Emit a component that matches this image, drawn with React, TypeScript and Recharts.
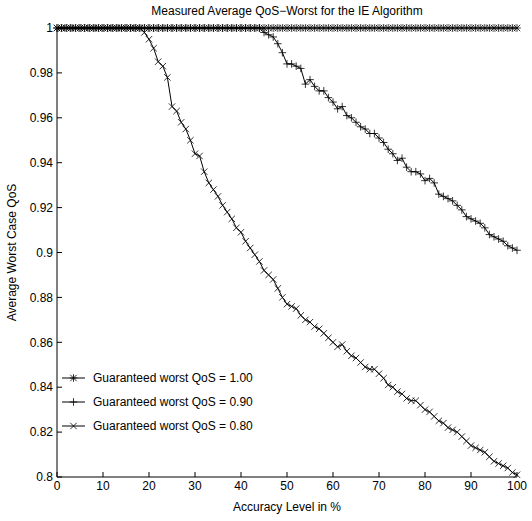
import React from "react"
import { LineChart, Line, XAxis, YAxis } from "recharts"

const accuracy = Array.from({ length: 101 }, (_, i) => i)

const worst100 = accuracy.map(() => 1.0)

// guaranteed worst QoS = 0.90
const worst90 = [
  1, 1, 1, 1, 1, 1, 1, 1, 1, 1,
  1, 1, 1, 1, 1, 1, 1, 1, 1, 1,
  1, 1, 1, 1, 1, 1, 1, 1, 1, 1,
  1, 1, 1, 1, 1, 1, 1, 1, 1, 1,
  1, 1, 1, 1, 1, 0.998, 0.997, 0.996, 0.993, 0.989,
  0.984, 0.984, 0.983, 0.982, 0.975, 0.977, 0.974, 0.972, 0.972, 0.969,
  0.967, 0.964, 0.965, 0.961, 0.96, 0.958, 0.956, 0.955, 0.953, 0.953,
  0.951, 0.949, 0.946, 0.944, 0.941, 0.942, 0.938, 0.936, 0.936, 0.935,
  0.932, 0.933, 0.931, 0.926, 0.925, 0.924, 0.923, 0.921, 0.919, 0.916,
  0.915, 0.914, 0.913, 0.911, 0.908, 0.907, 0.906, 0.905, 0.903, 0.902,
  0.901,
]

// guaranteed worst QoS = 0.80
const worst80 = [
  1, 1, 1, 1, 1, 1, 1, 1, 1, 1,
  1, 1, 1, 1, 1, 1, 1, 1, 1, 0.998,
  0.995, 0.991, 0.985, 0.983, 0.978, 0.965, 0.963, 0.958, 0.955, 0.95,
  0.944, 0.943, 0.936, 0.931, 0.928, 0.925, 0.921, 0.918, 0.915, 0.911,
  0.909, 0.905, 0.902, 0.899, 0.896, 0.892, 0.89, 0.888, 0.884, 0.88,
  0.877, 0.876, 0.875, 0.872, 0.87, 0.869, 0.867, 0.866, 0.864, 0.862,
  0.86, 0.858, 0.859, 0.856, 0.854, 0.853, 0.851, 0.849, 0.848, 0.848,
  0.846, 0.844, 0.841, 0.84, 0.838, 0.837, 0.835, 0.834, 0.834, 0.832,
  0.83, 0.829, 0.827, 0.825, 0.824, 0.822, 0.821, 0.82, 0.818, 0.816,
  0.814, 0.813, 0.812, 0.811, 0.809, 0.807, 0.806, 0.805, 0.804, 0.802,
  0.801,
]

const xTicks = [0, 10, 20, 30, 40, 50, 60, 70, 80, 90, 100]
const yTicks = [0.8, 0.82, 0.84, 0.86, 0.88, 0.9, 0.92, 0.94, 0.96, 0.98, 1]

const legendLabels = [
  "Guaranteed worst QoS = 1.00",
  "Guaranteed worst QoS = 0.90",
  "Guaranteed worst QoS = 0.80",
]

const data = accuracy.map((x, i) => ({
  x,
  q100: worst100[i],
  q90: worst90[i],
  q80: worst80[i],
}))

const FONT = "'Liberation Sans', Arial, Helvetica, sans-serif"
const INK = "#000"
const TICK_IN = 5
const M = 4

type Kind = "star" | "plus" | "cross"

function Marker({ cx, cy, kind }: { cx: number; cy: number; kind: Kind }) {
  const p = 3.8
  const c = 3.2
  const plus = `M${cx - p},${cy}L${cx + p},${cy}M${cx},${cy - p}L${cx},${cy + p}`
  const cross = `M${cx - c},${cy - c}L${cx + c},${cy + c}M${cx - c},${cy + c}L${cx + c},${cy - c}`
  const d = kind === "plus" ? plus : kind === "cross" ? cross : plus + cross
  return <path d={d} stroke={INK} strokeWidth={0.8} fill="none" />
}

const dotFor = (kind: Kind) => (p: any) => (
  <Marker key={`${kind}-${p.index}`} cx={p.cx} cy={p.cy} kind={kind} />
)

const fmt = (v: number) => String(Number(v.toFixed(2)))

function BottomTick(props: any) {
  const { x, y, payload } = props
  const ay = y - M
  return (
    <g>
      <line x1={x} x2={x} y1={ay} y2={ay - TICK_IN} stroke={INK} />
      <text x={x} y={y} dy="0.71em" textAnchor="middle" fill={INK} fontSize={12} fontFamily={FONT}>
        {payload.value}
      </text>
    </g>
  )
}

function TopTick(props: any) {
  const { x, y } = props
  const ay = y + M
  return <line x1={x} x2={x} y1={ay} y2={ay + TICK_IN} stroke={INK} />
}

function LeftTick(props: any) {
  const { x, y, payload } = props
  const ax = x + M
  return (
    <g>
      <line x1={ax} x2={ax + TICK_IN} y1={y} y2={y} stroke={INK} />
      <text x={x} y={y} dy="0.355em" textAnchor="end" fill={INK} fontSize={12} fontFamily={FONT}>
        {fmt(payload.value)}
      </text>
    </g>
  )
}

function RightTick(props: any) {
  const { x, y } = props
  const ax = x - M
  return <line x1={ax} x2={ax - TICK_IN} y1={y} y2={y} stroke={INK} />
}

const kinds: Kind[] = ["star", "plus", "cross"]

function LegendBox() {
  return (
    <div
      style={{
        position: "absolute",
        left: 60,
        top: 366,
        fontFamily: FONT,
        fontSize: 12,
        color: INK,
      }}
    >
      {legendLabels.map((label, i) => (
        <div key={label} style={{ display: "flex", alignItems: "center", height: 24 }}>
          <svg width={33} height={12} style={{ display: "block" }}>
            <line x1={2} x2={25} y1={6} y2={6} stroke={INK} strokeWidth={1} />
            <Marker cx={13.5} cy={6} kind={kinds[i]} />
          </svg>
          <span>{label}</span>
        </div>
      ))}
    </div>
  )
}

export default function App() {
  return (
    <div style={{ position: "absolute", left: 0, top: 0, width: 532, height: 521, background: "#fff" }}>
      <div
        style={{
          position: "absolute",
          left: 57,
          width: 460,
          top: 4,
          textAlign: "center",
          fontFamily: FONT,
          fontSize: 12,
          color: INK,
        }}
      >
        Measured Average QoS−Worst for the IE Algorithm
      </div>
      <LineChart width={532} height={521} data={data} margin={{ top: 28, right: 15, bottom: 0, left: 0 }}>
        <XAxis
          dataKey="x"
          type="number"
          domain={[0, 100]}
          ticks={xTicks}
          interval={0}
          tickLine={false}
          tickSize={0}
          tickMargin={M}
          tick={<BottomTick />}
          stroke={INK}
          height={44}
          label={{
            value: "Accuracy Level in %",
            position: "insideBottom",
            offset: 10,
            fill: INK,
            fontSize: 12,
            fontFamily: FONT,
          }}
        />
        <XAxis
          xAxisId="top"
          dataKey="x"
          type="number"
          orientation="top"
          domain={[0, 100]}
          ticks={xTicks}
          interval={0}
          tickLine={false}
          tickSize={0}
          tickMargin={M}
          tick={<TopTick />}
          stroke={INK}
          height={0}
        />
        <YAxis
          type="number"
          domain={[0.8, 1]}
          ticks={yTicks}
          interval={0}
          tickLine={false}
          tickSize={0}
          tickMargin={M}
          tick={<LeftTick />}
          stroke={INK}
          width={57}
          label={{
            value: "Average Worst Case QoS",
            angle: -90,
            position: "insideLeft",
            offset: 12,
            style: { textAnchor: "middle" },
            fill: INK,
            fontSize: 12,
            fontFamily: FONT,
          }}
        />
        <YAxis
          yAxisId="right"
          orientation="right"
          type="number"
          domain={[0.8, 1]}
          ticks={yTicks}
          interval={0}
          tickLine={false}
          tickSize={0}
          tickMargin={M}
          tick={<RightTick />}
          stroke={INK}
          width={0}
        />
        <Line
          dataKey="q80"
          stroke={INK}
          strokeWidth={1}
          dot={dotFor("cross")}
          activeDot={false}
          isAnimationActive={false}
        />
        <Line
          dataKey="q90"
          stroke={INK}
          strokeWidth={1}
          dot={dotFor("plus")}
          activeDot={false}
          isAnimationActive={false}
        />
        <Line
          dataKey="q100"
          stroke={INK}
          strokeWidth={1}
          dot={dotFor("star")}
          activeDot={false}
          isAnimationActive={false}
        />
      </LineChart>
      <LegendBox />
    </div>
  )
}
